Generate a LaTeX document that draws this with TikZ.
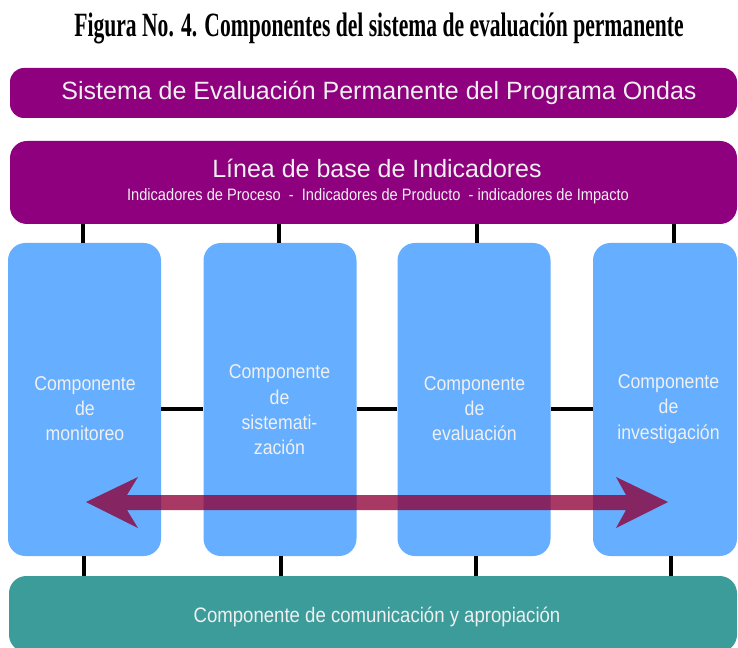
\documentclass[tikz,border=0pt]{standalone}
\usepackage{fontspec}
\setmainfont{Liberation Sans}
\newfontfamily\titlefont[FakeStretch=0.635]{Liberation Serif}
\newfontfamily\narrowsans[FakeStretch=0.885]{Liberation Sans}
\definecolor{purp}{HTML}{8E007E}
\definecolor{boxblue}{HTML}{66AEFF}
\definecolor{teal2}{HTML}{3C9C9A}
\definecolor{arrowc}{HTML}{8F0038}
\definecolor{lighttxt}{HTML}{F0F0F0}
\begin{document}
\begin{tikzpicture}[x=0.75pt,y=-0.75pt,
  purpbar/.style={fill=purp,draw=none,text=lighttxt,inner sep=0pt},
  compbox/.style={fill=boxblue,draw=none,rounded corners=13pt,minimum width=114.75pt,minimum height=234.75pt,inner sep=0pt},
  comptext/.style={text=lighttxt,font=\narrowsans\fontsize{15}{19}\selectfont,align=center},
  conn/.style={draw=black,line width=2.3pt}]
\useasboundingbox (0,0) rectangle (738,648);

% title
\node (title) at (379,28) {\titlefont\bfseries\fontsize{25.5}{28}\selectfont Figura No. 4. Componentes del sistema de evaluación permanente};

% top bar
\node[purpbar,rounded corners=10.5pt,minimum width=545.25pt,minimum height=37.5pt] (sys) at (373.5,93) {};
\node[text=lighttxt,font=\fontsize{18.75}{22}\selectfont] (systxt) at (379,93) {Sistema de Evaluación Permanente del Programa Ondas};

% line base box
\node[purpbar,rounded corners=12.75pt,minimum width=545.25pt,minimum height=62.25pt] (line) at (373.5,182.5) {};
\node[text=lighttxt,font=\fontsize{18.75}{22}\selectfont] (linetxt) at (377,168) {Línea de base de Indicadores};
\node[text=lighttxt,font=\narrowsans\fontsize{12.4}{14}\selectfont] (subtxt) at (378,196) {Indicadores de Proceso\ \ -\ \ Indicadores de Producto\ \ - indicadores de Impacto};

% component boxes
\node[compbox] (b1) at (84.5,399.5) {};
\node[compbox] (b2) at (280,399.5) {};
\node[compbox] (b3) at (474,399.5) {};
\node[compbox,minimum width=108pt] (b4) at (665,399.5) {};

\node[comptext] (t1) at (85,408.5) {Componente\\de\\monitoreo};
\node[comptext] (t2) at (279.5,410) {Componente\\de\\sistemati-\\zación};
\node[comptext] (t3) at (474.5,408.5) {Componente\\de\\evaluación};
\node[comptext] (t4) at (668.5,409) {Componente\\de\\investigación};

% bottom bar
\node[fill=teal2,draw=none,rounded corners=13pt,minimum width=546pt,minimum height=57pt,inner sep=0pt] (com) at (373,614) {};
\node[text=lighttxt,font=\narrowsans\fontsize{15.75}{18}\selectfont] (comtxt) at (377,617) {Componente de comunicación y apropiación};

% connector x positions
\coordinate (u1) at (83,0);
\coordinate (u2) at (279,0);
\coordinate (u3) at (477,0);
\coordinate (u4) at (674,0);
\coordinate (d1) at (84,0);
\coordinate (d2) at (281,0);
\coordinate (d3) at (476,0);
\coordinate (d4) at (671,0);
\coordinate (hy) at (0,409);

\foreach \i in {1,2,3,4}{
  \draw[conn] (line.south -| u\i) -- (b\i.north -| u\i);
  \draw[conn] (b\i.south -| d\i) -- (com.north -| d\i);
}
\draw[conn] (b1.east |- hy) -- (b2.west |- hy);
\draw[conn] (b2.east |- hy) -- (b3.west |- hy);
\draw[conn] (b3.east |- hy) -- (b4.west |- hy);

% double arrow
\fill[arrowc,fill opacity=0.78] (86,502) -- (138,477) -- (127,495) -- (626,495) -- (616,477) -- (668,502) -- (616,528) -- (626,510) -- (127,510) -- (138,528) -- cycle;
\end{tikzpicture}
\end{document}
